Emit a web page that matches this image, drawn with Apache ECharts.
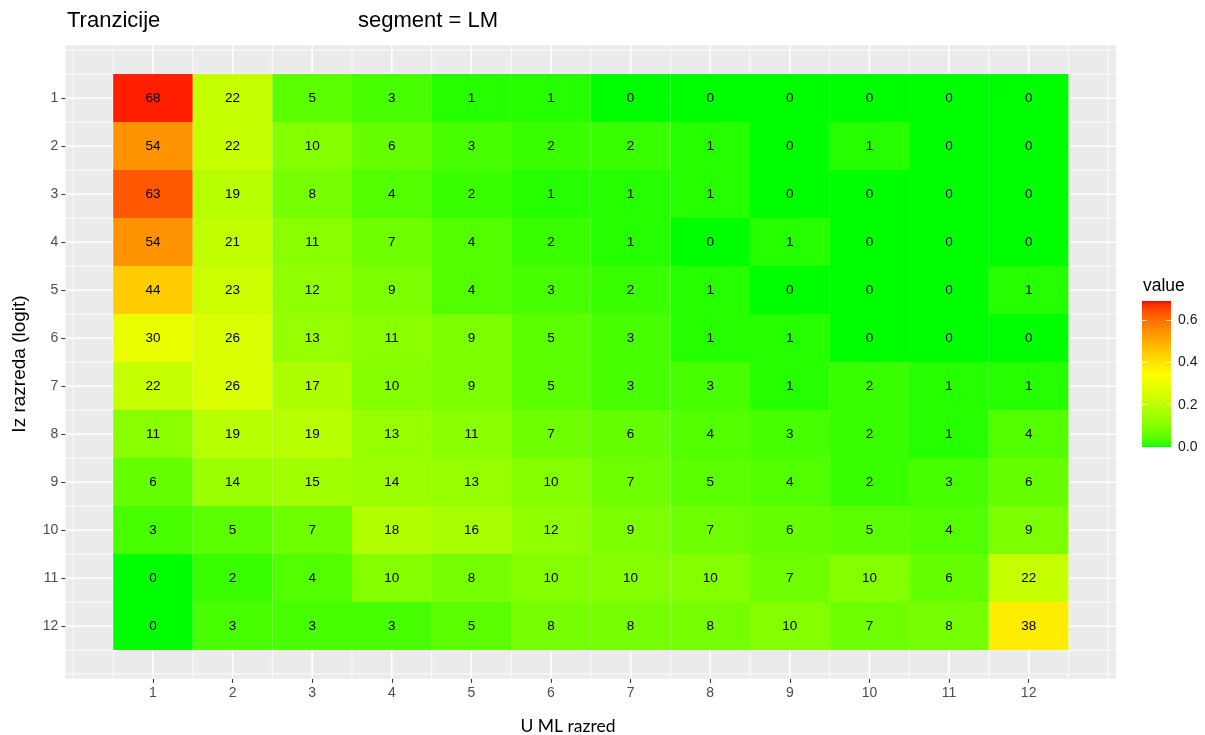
<!DOCTYPE html>
<html>
<head>
<meta charset="utf-8">
<script src="https://cdn.jsdelivr.net/npm/echarts@6/dist/echarts.min.js"></script>
<style>
  html, body { margin: 0; padding: 0; background: #ffffff; }
  #chart { width: 1205px; height: 735px; }
</style>
</head>
<body>
<div id="chart"></div>
<script>
// Transition shares (%) from rating class "Iz razreda" (rows) to "U ML razred" (columns)
const toClasses = ['1', '2', '3', '4', '5', '6', '7', '8', '9', '10', '11', '12'];
const fromClasses = ['1', '2', '3', '4', '5', '6', '7', '8', '9', '10', '11', '12'];

const from1  = [68, 22, 5, 3, 1, 1, 0, 0, 0, 0, 0, 0];
const from2  = [54, 22, 10, 6, 3, 2, 2, 1, 0, 1, 0, 0];
const from3  = [63, 19, 8, 4, 2, 1, 1, 1, 0, 0, 0, 0];
const from4  = [54, 21, 11, 7, 4, 2, 1, 0, 1, 0, 0, 0];
const from5  = [44, 23, 12, 9, 4, 3, 2, 1, 0, 0, 0, 1];
const from6  = [30, 26, 13, 11, 9, 5, 3, 1, 1, 0, 0, 0];
const from7  = [22, 26, 17, 10, 9, 5, 3, 3, 1, 2, 1, 1];
const from8  = [11, 19, 19, 13, 11, 7, 6, 4, 3, 2, 1, 4];
const from9  = [6, 14, 15, 14, 13, 10, 7, 5, 4, 2, 3, 6];
const from10 = [3, 5, 7, 18, 16, 12, 9, 7, 6, 5, 4, 9];
const from11 = [0, 2, 4, 10, 8, 10, 10, 10, 7, 10, 6, 22];
const from12 = [0, 3, 3, 3, 5, 8, 8, 8, 10, 7, 8, 38];
const rows = [from1, from2, from3, from4, from5, from6, from7, from8, from9, from10, from11, from12];

// Colour scale limits and legend ticks
const scaleMax = 0.69;
const legendTicks = [0, 0.2, 0.4, 0.6];
const paletteAnchors = ['#00FF00', '#FFFF00', '#FF0000'];

// ---- Lab-space gradient (green -> yellow -> red) ----
function hexToRgb(h) {
  return [parseInt(h.slice(1, 3), 16), parseInt(h.slice(3, 5), 16), parseInt(h.slice(5, 7), 16)];
}
function toLab(rgb) {
  const lin = rgb.map(c => { c /= 255; return c <= 0.04045 ? c / 12.92 : Math.pow((c + 0.055) / 1.055, 2.4); });
  const X = (0.4124564 * lin[0] + 0.3575761 * lin[1] + 0.1804375 * lin[2]) / 0.95047;
  const Y = (0.2126729 * lin[0] + 0.7151522 * lin[1] + 0.0721750 * lin[2]);
  const Z = (0.0193339 * lin[0] + 0.1191920 * lin[1] + 0.9503041 * lin[2]) / 1.08883;
  const f = t => t > 0.008856 ? Math.cbrt(t) : 7.787 * t + 16 / 116;
  const fx = f(X), fy = f(Y), fz = f(Z);
  return [116 * fy - 16, 500 * (fx - fy), 200 * (fy - fz)];
}
function fromLab(lab) {
  const fy = (lab[0] + 16) / 116, fx = fy + lab[1] / 500, fz = fy - lab[2] / 200;
  const inv = t => (t * t * t > 0.008856 ? t * t * t : (t - 16 / 116) / 7.787);
  const X = inv(fx) * 0.95047, Y = inv(fy), Z = inv(fz) * 1.08883;
  const lin = [
    3.2404542 * X - 1.5371385 * Y - 0.4985314 * Z,
    -0.9692660 * X + 1.8760108 * Y + 0.0415560 * Z,
    0.0556434 * X - 0.2040259 * Y + 1.0572252 * Z
  ];
  const g = lin.map(c => {
    c = c <= 0.0031308 ? 12.92 * c : 1.055 * Math.pow(c, 1 / 2.4) - 0.055;
    return Math.max(0, Math.min(255, Math.round(c * 255)));
  });
  return '#' + g.map(v => v.toString(16).padStart(2, '0')).join('');
}
function paletteStops(n) {
  const labs = paletteAnchors.map(h => toLab(hexToRgb(h)));
  const out = [];
  for (let i = 0; i < n; i++) {
    const t = i / (n - 1) * (labs.length - 1);
    const k = Math.min(Math.floor(t), labs.length - 2);
    const u = t - k;
    out.push(fromLab(labs[k].map((v, j) => v + (labs[k + 1][j] - v) * u)));
  }
  return out;
}
const colorStops = paletteStops(61);

// Cells: [to class, from class, share, label]
const cells = [];
rows.forEach((row, r) => {
  row.forEach((pct, c) => {
    cells.push([c + 1, r + 1, pct / 100, String(pct)]);
  });
});

// Panel grid breaks (major on classes, minor on half steps)
const gridBreaks = [];
for (let k = 0; k <= 26; k++) gridBreaks.push([k / 2, k % 2 === 0 && k >= 2 && k <= 24 ? 1 : 0]);
const gridLineData = [];
gridBreaks.forEach(b => { gridLineData.push(['v', b[0], b[1]]); gridLineData.push(['h', b[0], b[1]]); });

const FONT = "'Liberation Sans', Arial, Helvetica, sans-serif";
const classTicks = toClasses.map(Number);

const chart = echarts.init(document.getElementById('chart'), null, { renderer: 'canvas' });

const option = {
  backgroundColor: '#ffffff',
  animation: false,
  grid: [
    { left: 65.4, top: 45.2, width: 1050.8, height: 633.6, show: true, backgroundColor: '#EBEBEB', borderWidth: 0, containLabel: false },
    { left: 1142, top: 301, width: 29, height: 146, show: false, containLabel: false }
  ],
  xAxis: [
    {
      type: 'value', gridIndex: 0, min: -0.1, max: 13.1, position: 'bottom',
      axisLine: { show: false, onZero: false },
      splitLine: { show: false },
      axisTick: { show: true, customValues: classTicks, length: 4, lineStyle: { color: '#333333', width: 1.1 } },
      axisLabel: { show: true, customValues: classTicks, margin: 7, color: '#4D4D4D', fontSize: 14, fontFamily: FONT,
        formatter: v => toClasses[Math.round(v) - 1] }
    },
    { type: 'value', gridIndex: 1, min: 0, max: 1, show: false }
  ],
  yAxis: [
    {
      type: 'value', gridIndex: 0, min: -0.1, max: 13.1, inverse: true, position: 'left',
      axisLine: { show: false, onZero: false },
      splitLine: { show: false },
      axisTick: { show: true, customValues: classTicks, length: 4, lineStyle: { color: '#333333', width: 1.1 } },
      axisLabel: { show: true, customValues: classTicks, margin: 7, color: '#4D4D4D', fontSize: 14, fontFamily: FONT,
        formatter: v => fromClasses[Math.round(v) - 1] }
    },
    {
      type: 'value', gridIndex: 1, min: 0, max: scaleMax, position: 'right', z: 10,
      axisLine: { show: false, onZero: false },
      splitLine: { show: false },
      axisTick: { show: true, inside: true, customValues: legendTicks, length: 5, lineStyle: { color: '#ffffff', width: 1, opacity: 0.8 } },
      axisLabel: { show: true, customValues: legendTicks, margin: 7, color: '#1a1a1a', fontSize: 14, fontFamily: FONT,
        formatter: v => v.toFixed(1) }
    },
    {
      type: 'value', gridIndex: 1, min: 0, max: scaleMax, position: 'left', z: 10,
      axisLine: { show: false, onZero: false },
      splitLine: { show: false },
      axisTick: { show: true, inside: true, customValues: legendTicks, length: 5, lineStyle: { color: '#ffffff', width: 1, opacity: 0.8 } },
      axisLabel: { show: false }
    }
  ],
  visualMap: {
    type: 'continuous', show: false, min: 0, max: scaleMax, dimension: 2, seriesIndex: 1,
    inRange: { color: colorStops }
  },
  series: [
    {
      // white panel grid lines
      type: 'custom', xAxisIndex: 0, yAxisIndex: 0, z: 1, silent: true,
      data: gridLineData,
      encode: { x: -1, y: -1 },
      renderItem: function (params, api) {
        const cs = params.coordSys;
        const dir = api.value(0);
        const v = api.value(1);
        const major = api.value(2) === 1;
        const lw = major ? 1.6 : 0.8;
        let shape;
        if (dir === 'v') {
          const x = api.coord([v, 0])[0];
          shape = { x1: x, y1: cs.y, x2: x, y2: cs.y + cs.height };
        } else {
          const y = api.coord([0, v])[1];
          shape = { x1: cs.x, y1: y, x2: cs.x + cs.width, y2: y };
        }
        return { type: 'line', shape: shape, style: { stroke: '#ffffff', lineWidth: lw } };
      }
    },
    {
      // heatmap tiles with their share labels
      type: 'custom', xAxisIndex: 0, yAxisIndex: 0, z: 2, silent: true,
      data: cells,
      encode: { x: 0, y: 1 },
      renderItem: function (params, api) {
        const x = api.value(0), y = api.value(1);
        const p0 = api.coord([x - 0.5, y - 0.5]);
        const p1 = api.coord([x + 0.5, y + 0.5]);
        const c = api.coord([x, y]);
        return {
          type: 'group',
          children: [
            { type: 'rect',
              shape: { x: Math.min(p0[0], p1[0]), y: Math.min(p0[1], p1[1]), width: Math.abs(p1[0] - p0[0]), height: Math.abs(p1[1] - p0[1]) },
              style: { fill: api.visual('color') } },
            { type: 'text',
              style: { text: cells[params.dataIndex][3], x: c[0], y: c[1], align: 'center', verticalAlign: 'middle',
                fill: '#000000', font: '13.5px ' + FONT } }
          ]
        };
      }
    },
    {
      // colour bar of the legend
      type: 'custom', xAxisIndex: 1, yAxisIndex: 1, z: 3, silent: true,
      data: [[0, scaleMax]],
      encode: { x: -1, y: -1 },
      renderItem: function (params, api) {
        const top = api.coord([1, scaleMax]);
        const bottom = api.coord([0, 0]);
        const stops = colorStops.map((col, i) => ({ offset: 1 - i / (colorStops.length - 1), color: col }));
        return {
          type: 'rect',
          shape: { x: bottom[0], y: top[1], width: top[0] - bottom[0], height: bottom[1] - top[1] },
          style: { fill: new echarts.graphic.LinearGradient(0, 0, 0, 1, stops) }
        };
      }
    }
  ],
  graphic: [
    { type: 'text', left: 67, top: 10, style: { text: 'Tranzicije', font: '22px ' + FONT, fill: '#000000' } },
    { type: 'text', left: 358, top: 10, style: { text: 'segment = LM', font: '22px ' + FONT, fill: '#000000' } },
    { type: 'text', left: 1143, top: 277, style: { text: 'value', font: '17.5px ' + FONT, fill: '#000000' } },
    { type: 'text', x: 568, y: 726, style: { text: 'U ML razred', font: '17.5px Lato, ' + FONT, fill: '#000000', align: 'center', verticalAlign: 'middle' } },
    { type: 'text', x: 20, y: 364, rotation: Math.PI / 2, style: { text: 'Iz razreda (logit)', font: '19px ' + FONT, fill: '#000000', align: 'center', verticalAlign: 'middle' } }
  ]
};

chart.setOption(option);
</script>
</body>
</html>
